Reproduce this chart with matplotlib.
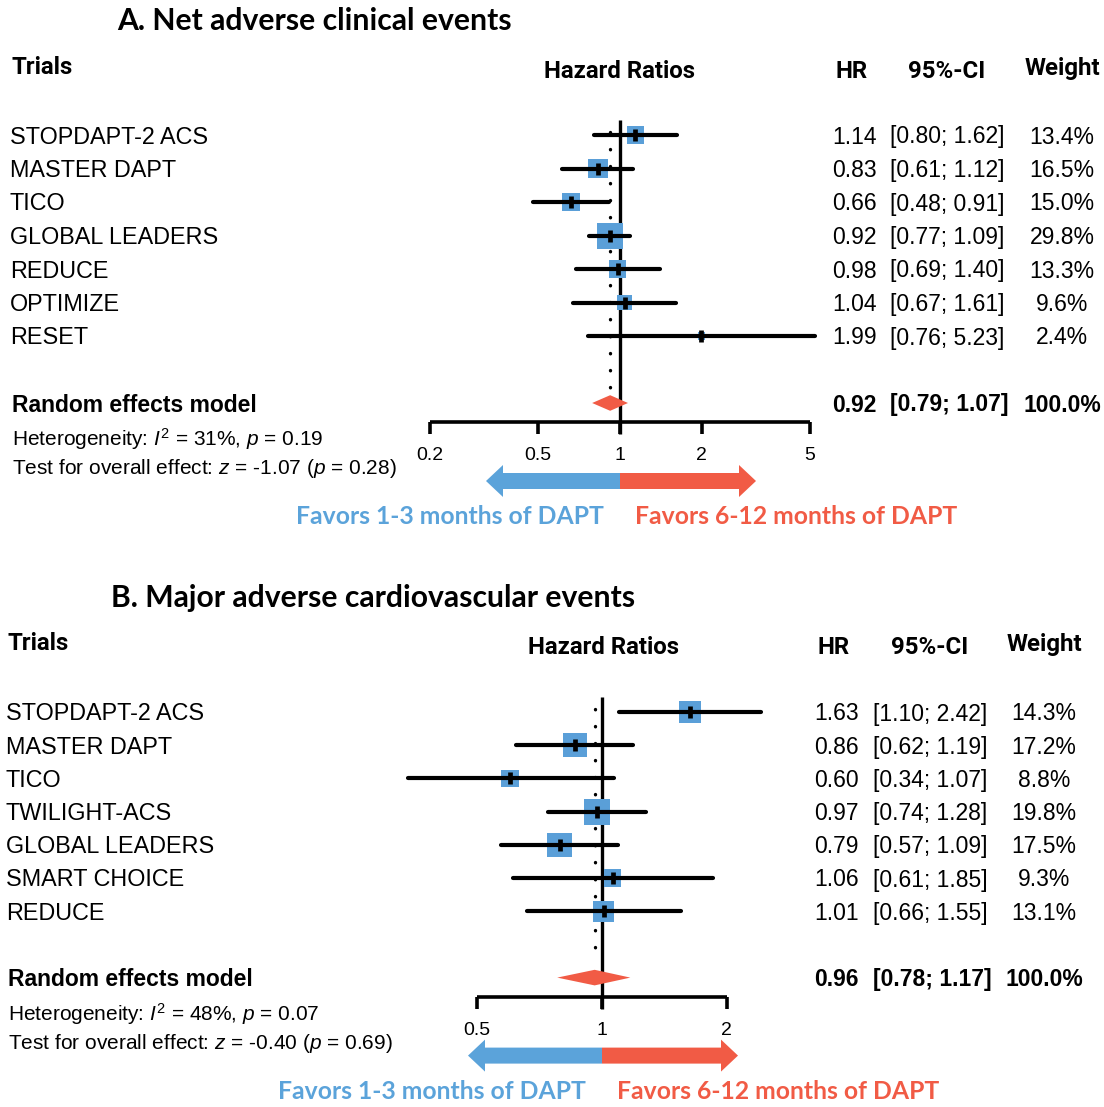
import numpy as np
import matplotlib
matplotlib.use("Agg")
import matplotlib.pyplot as plt
from matplotlib.patches import FancyArrow

plt.rcParams['font.family'] = ['Liberation Sans', 'DejaVu Sans']
plt.rcParams['mathtext.fontset'] = 'custom'
plt.rcParams['mathtext.rm'] = 'Liberation Sans'
plt.rcParams['mathtext.it'] = 'Liberation Sans:italic'

# ---- panel A data ----
a_trials = ["STOPDAPT-2 ACS", "MASTER DAPT", "TICO", "GLOBAL LEADERS",
            "REDUCE", "OPTIMIZE", "RESET"]
a_hr = [1.14, 0.83, 0.66, 0.92, 0.98, 1.04, 1.99]
a_lo = [0.80, 0.61, 0.48, 0.77, 0.69, 0.67, 0.76]
a_hi = [1.62, 1.12, 0.91, 1.09, 1.40, 1.61, 5.23]
a_wt = [13.4, 16.5, 15.0, 29.8, 13.3, 9.6, 2.4]
a_sum = (0.92, 0.79, 1.07)
a_het = r"Heterogeneity: $I^2$ = 31%, $p$ = 0.19"
a_test = r"Test for overall effect: $z$ = -1.07 ($p$ = 0.28)"
a_ticks = [0.2, 0.5, 1, 2, 5]
a_ticklabels = ["0.2", "0.5", "1", "2", "5"]

# ---- panel B data ----
b_trials = ["STOPDAPT-2 ACS", "MASTER DAPT", "TICO", "TWILIGHT-ACS",
            "GLOBAL LEADERS", "SMART CHOICE", "REDUCE"]
b_hr = [1.63, 0.86, 0.60, 0.97, 0.79, 1.06, 1.01]
b_lo = [1.10, 0.62, 0.34, 0.74, 0.57, 0.61, 0.66]
b_hi = [2.42, 1.19, 1.07, 1.28, 1.09, 1.85, 1.55]
b_wt = [14.3, 17.2, 8.8, 19.8, 17.5, 9.3, 13.1]
b_sum = (0.96, 0.78, 1.17)
b_het = r"Heterogeneity: $I^2$ = 48%, $p$ = 0.07"
b_test = r"Test for overall effect: $z$ = -0.40 ($p$ = 0.69)"
b_ticks = [0.5, 1, 2]
b_ticklabels = ["0.5", "1", "2"]

BLUE = "#5BA3DA"
SQ = "#5A9FD8"
RED = "#F15B45"
W, H = 1104, 1107

fig = plt.figure(figsize=(W / 100, H / 100), dpi=100)
ov = fig.add_axes([0, 0, 1, 1])
ov.set_xlim(0, W)
ov.set_ylim(H, 0)
ov.axis("off")

HEAD = ['Liberation Sans Narrow', 'Roboto', 'DejaVu Sans']
TITLE = ['Lato', 'DejaVu Sans']
FS_NAME = 16.8
FS_NUM = 16.5
FS_HEAD = 17.3
DY_TXT = 2  # nudge text down so caps sit on the row


def panel(title, title_xy, top, trials, hr, lo, hi, wt, summ, het, test,
          ticks, ticklabels, c, k, r0, dy, col):
    # col: x positions of name, hazard header, hr, ci, weight
    xname, xhaz, xhr, xci, xw = col
    ov.text(title_xy[0], title_xy[1], title, fontsize=21.7, fontweight="bold",
            family=TITLE, ha="center", va="center")
    hy = top + 1
    ov.text(xname + 1, hy - 3, "Trials", fontsize=FS_HEAD, fontweight="bold", family=HEAD, va="center")
    ov.text(xhaz, hy, "Hazard Ratios", fontsize=FS_HEAD, fontweight="bold", family=HEAD,
            ha="center", va="center")
    ov.text(xhr + 20, hy, "HR", fontsize=FS_HEAD, fontweight="bold", family=HEAD, ha="center", va="center")
    ov.text(xci + 57, hy, "95%-CI", fontsize=FS_HEAD, fontweight="bold", family=HEAD, ha="center", va="center")
    ov.text(xw, hy - 3, "Weight", fontsize=FS_HEAD, fontweight="bold", family=HEAD, ha="center", va="center")

    # forest axes, pixel box
    x0, x1 = 360, 850
    y0, y1 = top + 30, top + 420
    ax = fig.add_axes([x0 / W, 1 - y1 / H, (x1 - x0) / W, (y1 - y0) / H])
    ax.set_xscale("log")
    ax.set_xlim(10 ** ((x0 - c) / k), 10 ** ((x1 - c) / k))
    ax.set_ylim((y1 - r0) / dy, (y0 - r0) / dy)
    ax.axis("off")

    rows = np.arange(len(trials))
    srow = len(trials) + 1
    axrow = srow + 19 / dy
    tickb = axrow + 12.5 / dy

    # dotted summary line
    ax.plot([summ[0], summ[0]], [-0.1, srow - 0.45], color="black", lw=2.4,
            linestyle=(0, (0.1, 5.0)), dash_capstyle="round", zorder=1)
    # reference line at 1
    ax.plot([1, 1], [-0.45, tickb], color="black", lw=2.4, zorder=2,
            solid_capstyle="butt")
    # squares
    wmax = max(wt)
    sizes = [(26 * np.sqrt(w / wmax) * 0.72) ** 2 for w in wt]
    ax.scatter(hr, rows, s=sizes, marker="s", color=SQ, linewidths=0, zorder=3)
    ax.hlines(rows, lo, hi, color="black", lw=3.0, zorder=4, capstyle="round")
    ax.plot(hr, rows, linestyle="none", marker="|", ms=8, mew=3.4, color="black", zorder=5)
    # summary diamond
    hh = 7.8 / dy
    ax.fill([summ[1], summ[0], summ[2], summ[0]], [srow, srow - hh, srow, srow + hh],
            color=RED, lw=0, zorder=5)
    # axis
    ax.plot([ticks[0], ticks[-1]], [axrow, axrow], color="black", lw=2.6,
            solid_capstyle="butt", zorder=2)
    ax.vlines(ticks, axrow, tickb, color="black", lw=2.6, zorder=2)
    for t, lab in zip(ticks, ticklabels):
        ax.text(t, axrow + 34 / dy, lab, fontsize=14, ha="center", va="center")

    # text columns
    for i, name in enumerate(trials):
        y = r0 + dy * i + DY_TXT
        ov.text(xname, y, name, fontsize=FS_NAME, va="center")
        ov.text(xhr, y, f"{hr[i]:.2f}", fontsize=FS_NUM, va="center")
        ov.text(xci, y, f"[{lo[i]:.2f}; {hi[i]:.2f}]", fontsize=FS_NUM, va="center")
        ov.text(xw, y, f"{wt[i]:.1f}%", fontsize=FS_NUM, va="center", ha="center")
    ys = r0 + dy * srow + DY_TXT
    ov.text(xname + 2, ys, "Random effects model", fontsize=16.5, fontweight="bold", va="center")
    ov.text(xhr, ys, f"{summ[0]:.2f}", fontsize=FS_NUM, fontweight="bold", va="center")
    ov.text(xci, ys, f"[{summ[1]:.2f}; {summ[2]:.2f}]", fontsize=FS_NUM, fontweight="bold", va="center")
    ov.text(xw, ys, "100.0%", fontsize=FS_NUM, fontweight="bold", va="center", ha="center")
    ov.text(xname + 2, ys + 34, het, fontsize=15, va="center")
    ov.text(xname + 2, ys + 64, test, fontsize=15, va="center")

    # arrows
    ay = ys - DY_TXT + 78
    xone = c
    xl = c - 134
    xr = c + 136
    ov.add_patch(FancyArrow(xone, ay, xl - xone, 0, width=16, head_width=32,
                            head_length=17, length_includes_head=True,
                            color=BLUE, lw=0))
    ov.add_patch(FancyArrow(xone, ay, xr - xone, 0, width=16, head_width=32,
                            head_length=17, length_includes_head=True,
                            color=RED, lw=0))
    ov.text(xone - 16, ay + 36, "Favors 1-3 months of DAPT", fontsize=17.8,
            fontweight="bold", family=TITLE, color=BLUE, ha="right", va="center")
    ov.text(xone + 15, ay + 36, "Favors 6-12 months of DAPT", fontsize=17.8,
            fontweight="bold", family=TITLE, color=RED, ha="left", va="center")


panel("A. Net adverse clinical events", (314, 21), 70, a_trials, a_hr, a_lo, a_hi,
      a_wt, a_sum, a_het, a_test, a_ticks, a_ticklabels,
      c=620, k=272, r0=135, dy=33.5, col=(10, 620, 832, 890, 1062))
panel("B. Major adverse cardiovascular events", (373, 598), 646, b_trials, b_hr, b_lo,
      b_hi, b_wt, b_sum, b_het, b_test, b_ticks, b_ticklabels,
      c=602, k=415, r0=712, dy=33.2, col=(6, 603, 814, 873, 1044))

fig.savefig("out.png", dpi=100)
